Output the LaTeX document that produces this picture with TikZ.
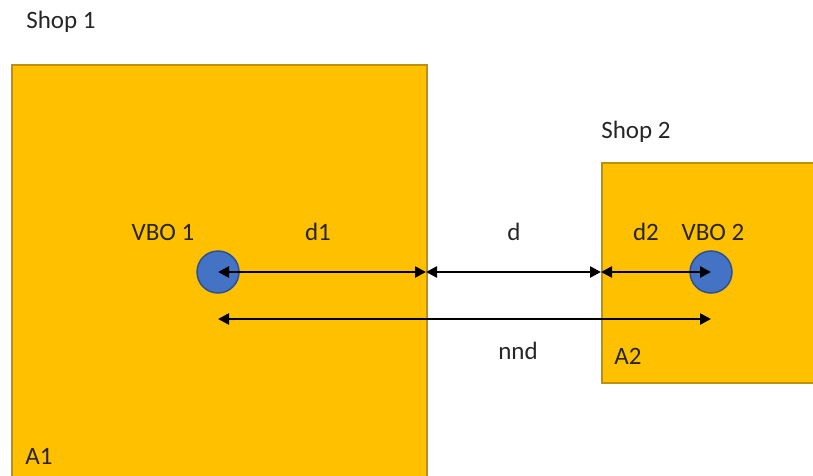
\documentclass[tikz,border=0pt]{standalone}
\usepackage{fontspec}
\setmainfont{Carlito}
\usetikzlibrary{arrows.meta}
\definecolor{shopfill}{HTML}{FFC000}
\definecolor{shopline}{HTML}{BF9000}
\definecolor{vbofill}{HTML}{4472C4}
\definecolor{vboline}{HTML}{2F528F}
\tikzset{
  shopbox/.style={draw=shopline, fill=shopfill, line width=2pt, anchor=north west, inner sep=0pt},
  vbo/.style={circle, draw=vboline, fill=vbofill, line width=1.5pt, minimum size=42pt, inner sep=0pt},
  lbl/.style={font=\fontsize{25}{30}\selectfont, inner sep=0pt, text=black!85},
  dim/.style={line width=2.5pt, {Triangle[length=11pt,width=11pt]}-{Triangle[length=11pt,width=11pt]}},
}
\begin{document}
\begin{tikzpicture}[x=1pt,y=-1pt]
\useasboundingbox (0,0) rectangle (813,476);
\clip (0,0) rectangle (813,476);
% the two shop areas
\node[shopbox, minimum width=415pt, minimum height=440pt] (area1) at (11,64) {};
\node[shopbox, minimum width=240pt, minimum height=220pt] (area2) at (601,162) {};
% VBO locations
\node[vbo] (vbo1) at (218,272) {};
\node[vbo] (vbo2) at (711,272) {};
% boundary points on the distance line
\coordinate (b1) at (426,272);
\coordinate (b2) at (601,272);
\coordinate (n1) at (218,319);
\coordinate (n2) at (711,319);
% distances
\draw[dim] (vbo1.center) -- (b1);
\draw[dim] (b1) -- (b2);
\draw[dim] (b2) -- (vbo2.center);
\draw[dim] (n1) -- (n2);
% labels
\node[lbl] (shop1) at (61,22) {Shop 1};
\node[lbl] (shop2) at (636,132) {Shop 2};
\node[lbl] (lv1) at (163,232) {VBO 1};
\node[lbl] (ld1) at (318,232) {d1};
\node[lbl] (ld) at (514,232) {d};
\node[lbl] (ld2) at (646,232) {d2};
\node[lbl] (lv2) at (713,232) {VBO 2};
\node[lbl] (lnnd) at (518,351) {nnd};
\node[lbl] (la2) at (628,356) {A2};
\node[lbl] (la1) at (39,456) {A1};
\end{tikzpicture}
\end{document}
